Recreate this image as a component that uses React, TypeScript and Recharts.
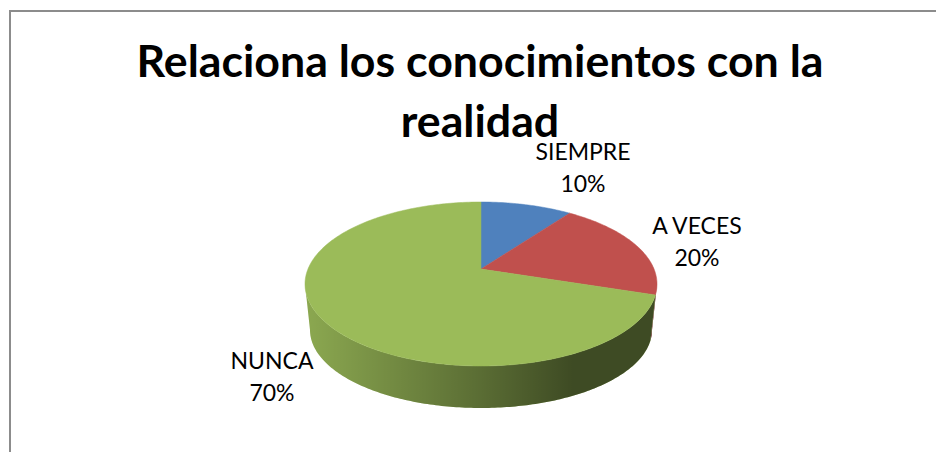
import {PieChart, Pie, Cell} from "recharts";

const categories = ["SIEMPRE", "A VECES", "NUNCA"];
const percents = [10, 20, 70];
const titleLines = ["Relaciona los conocimientos con la", "realidad"];

const colors = ["#4f81bd", "#c0504d", "#9bbb59"];
const FONT = "Lato, Carlito, 'Open Sans', sans-serif";

const data = categories.map((name, i) => ({name, value: percents[i]}));

// label centres relative to the pie centre
const labelOffsets = [
	{dx: 102, dy: -101},
	{dx: 216, dy: -27},
	{dx: -209, dy: 108},
];

// the pie is seen in perspective: the flat disc is projected on an ellipse
// whose centre sits a little below the apex of the slices
const SQUASH = 82 / 176;
const TOP_SHIFT = 15;
const TILT = -TOP_SHIFT / 82;
const BOTTOM_DX = 171 / 176;
const BOTTOM_DY = 78 / 176;
const BOTTOM_SHIFT = 61;

// clockwise from 12 o'clock, degrees -> angle on the projected ellipse
const warp = (deg: number) => {
	const r = (deg * Math.PI) / 180;
	const u = Math.sin(r);
	const v = -Math.cos(r);
	const d = 1 + TILT * v;
	const vv = (v + TILT) / d;
	const uu = (u * Math.sqrt(1 - TILT * TILT)) / d;
	let a = (Math.atan2(uu, -vv) * 180) / Math.PI;
	if (a < 0) a += 360;
	if (deg >= 360) a = 360;
	return a;
};

const range = (from: number, to: number) => {
	const steps = Math.max(2, Math.ceil(to - from));
	return Array.from({length: steps + 1}, (_, i) => from + ((to - from) * i) / steps);
};

function PieSlice(props: any) {
	const {cx, cy, outerRadius, startAngle, endAngle, index, fill} = props;
	const from = warp(90 - startAngle);
	const to = warp(90 - endAngle);
	const ey = cy + TOP_SHIFT;
	const topPt = (a: number) => {
		const r = (a * Math.PI) / 180;
		return `${cx + outerRadius * Math.sin(r)},${ey - outerRadius * SQUASH * Math.cos(r)}`;
	};
	const botPt = (a: number) => {
		const r = (a * Math.PI) / 180;
		return `${cx + outerRadius * BOTTOM_DX * Math.sin(r)},${
			cy + BOTTOM_SHIFT - outerRadius * BOTTOM_DY * Math.cos(r)
		}`;
	};
	const top = `M${cx},${cy} L` + range(from, to).map(topPt).join(" L") + " Z";

	const wallFrom = Math.max(from, 90);
	const wallTo = Math.min(to, 270);
	let wall = "";
	if (wallTo > wallFrom) {
		const arc = range(wallFrom, wallTo);
		wall =
			"M" +
			arc.map(topPt).join(" L") +
			" L" +
			[...arc].reverse().map(botPt).join(" L") +
			" Z";
	}
	return (
		<g>
			<defs>
				<linearGradient
					id={`wallShade${index}`}
					gradientUnits="userSpaceOnUse"
					x1={cx - outerRadius}
					x2={cx + outerRadius}
					y1={0}
					y2={0}
				>
					<stop offset="0" stopColor="#000" stopOpacity={0.1} />
					<stop offset="0.5" stopColor="#000" stopOpacity={0.42} />
					<stop offset="0.76" stopColor="#000" stopOpacity={0.6} />
					<stop offset="1" stopColor="#000" stopOpacity={0.6} />
				</linearGradient>
			</defs>
			{wall && <path d={wall} fill={fill} />}
			{wall && <path d={wall} fill={`url(#wallShade${index})`} />}
			<path d={top} fill={fill} stroke={fill} strokeWidth={0.5} />
		</g>
	);
}

function PieLabel(props: any) {
	const {cx, cy, index, name, value} = props;
	const pos = labelOffsets[index];
	const x = cx + pos.dx;
	const y = cy + pos.dy;
	return (
		<text
			x={x}
			y={y}
			textAnchor="middle"
			fill="#000"
			fontFamily={FONT}
			fontSize={23}
		>
			<tspan x={x} dy={-8}>
				{name}
			</tspan>
			<tspan x={x} dy={32}>
				{`${value}%`}
			</tspan>
		</text>
	);
}

export default function App() {
	return (
		<div
			style={{
				position: "fixed",
				left: 0,
				top: 0,
				width: 936,
				height: 452,
				background: "#fff",
				overflow: "hidden",
			}}
		>
			<div
				style={{
					position: "absolute",
					left: 9,
					top: 10,
					width: 927,
					height: 442,
					boxSizing: "border-box",
					borderLeft: "2px solid #8c8c8c",
					borderTop: "2px solid #8c8c8c",
				}}
			/>
			{titleLines.map((line, i) => (
				<div
					key={line}
					style={{
						position: "absolute",
						left: 0,
						width: 960,
						top: 30 + i * 60,
						lineHeight: "60px",
						textAlign: "center",
						fontFamily: FONT,
						fontWeight: 700,
						fontSize: 44.7,
						color: "#000",
					}}
				>
					{line}
				</div>
			))}
			<div style={{position: "absolute", left: 0, top: 0}}>
				<PieChart
					width={936}
					height={452}
					margin={{top: 0, right: 0, bottom: 0, left: 0}}
				>
					<Pie
						data={data}
						dataKey="value"
						nameKey="name"
						cx={481}
						cy={269}
						outerRadius={176}
						startAngle={90}
						endAngle={-270}
						stroke="none"
						labelLine={false}
						label={PieLabel}
						shape={PieSlice}
						isAnimationActive={false}
					>
						{data.map((d, i) => (
							<Cell key={d.name} fill={colors[i]} />
						))}
					</Pie>
				</PieChart>
			</div>
		</div>
	);
}
